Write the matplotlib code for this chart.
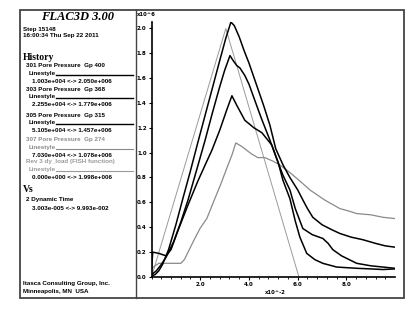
import matplotlib
matplotlib.use('Agg')
import matplotlib.pyplot as plt
from matplotlib.patches import Rectangle
from matplotlib.lines import Line2D
from matplotlib.ticker import MultipleLocator

# time in units of 1e-2 s, pore pressure in units of 1e6
t_301 = [0.03, 0.15, 0.3, 0.45, 0.7, 1.0, 1.3, 1.58, 1.9, 2.2, 2.5, 2.8, 3.05, 3.26, 3.4, 3.6, 3.8, 4.0,
         4.3, 4.6, 4.86, 5.1, 5.4, 5.68, 6.0, 6.21, 6.4, 6.62, 7.0, 7.4, 7.73, 8.2, 8.67, 9.2, 9.6, 9.99]
p_301 = [0.01, 0.02, 0.05, 0.10, 0.22, 0.42, 0.64, 0.84, 1.08, 1.30, 1.52, 1.74, 1.92, 2.05, 2.02, 1.93, 1.82, 1.72,
         1.55, 1.38, 1.22, 1.03, 0.90, 0.80, 0.70, 0.62, 0.55, 0.48, 0.42, 0.38, 0.35, 0.32, 0.30, 0.27, 0.25, 0.24]

t_303 = [0.03, 0.2, 0.4, 0.6, 0.9, 1.2, 1.5, 1.91, 2.2, 2.5, 2.8, 3.0, 3.22, 3.35, 3.5, 3.63, 3.83, 4.0,
         4.24, 4.5, 4.86, 5.1, 5.39, 5.68, 5.9, 6.21, 6.6, 7.03, 7.25, 7.44, 7.8, 8.42, 9.0, 9.5, 9.99]
p_303 = [0.023, 0.05, 0.10, 0.16, 0.28, 0.44, 0.62, 0.90, 1.10, 1.32, 1.53, 1.66, 1.78, 1.74, 1.70, 1.68, 1.62, 1.55,
         1.42, 1.28, 1.10, 0.97, 0.82, 0.70, 0.55, 0.39, 0.34, 0.31, 0.27, 0.22, 0.17, 0.11, 0.09, 0.08, 0.07]

t_305 = [0.0, 0.05, 0.3, 0.6, 0.8, 1.1, 1.5, 1.9, 2.2, 2.48, 2.8, 3.1, 3.3, 3.5, 3.83, 4.2, 4.53, 4.94,
         5.2, 5.39, 5.68, 5.9, 6.09, 6.37, 6.7, 7.03, 7.6, 8.42, 9.0, 9.5, 9.99]
p_305 = [0.051, 0.2, 0.19, 0.17, 0.22, 0.38, 0.58, 0.77, 0.9, 1.02, 1.18, 1.35, 1.457, 1.38, 1.26, 1.20, 1.16, 1.06,
         0.92, 0.78, 0.63, 0.45, 0.32, 0.19, 0.14, 0.11, 0.08, 0.07, 0.065, 0.06, 0.065]

t_307 = [0.03, 0.15, 0.3, 0.6, 0.9, 1.2, 1.35, 1.5, 1.7, 1.99, 2.27, 2.6, 2.85, 3.1, 3.3, 3.46, 3.7, 3.9,
         4.1, 4.36, 4.65, 5.0, 5.27, 5.68, 6.1, 6.5, 7.1, 7.73, 8.1, 8.42, 9.0, 9.5, 9.99]
p_307 = [0.07, 0.09, 0.11, 0.11, 0.11, 0.11, 0.14, 0.2, 0.28, 0.39, 0.47, 0.63, 0.75, 0.88, 0.98, 1.078, 1.05, 1.02,
         0.99, 0.96, 0.96, 0.93, 0.90, 0.84, 0.77, 0.70, 0.62, 0.55, 0.53, 0.51, 0.50, 0.48, 0.47]

# table 3 (dy_load FISH function)
t_tab = [0.0, 3.05, 6.05]
p_tab = [0.0, 1.998, 0.0]

W, H = 415, 309


def fx(x):
    return x / W


def fy(y):
    return 1 - y / H


fig = plt.figure(figsize=(W / 100, H / 100), dpi=100)

# outer frame + divider
fig.patches.append(Rectangle((fx(20), fy(298)), fx(404) - fx(20), fy(10) - fy(298),
                             transform=fig.transFigure, fill=False, lw=1.3, ec='#444444'))
fig.lines.append(Line2D([fx(136), fx(136)], [fy(10), fy(298)], transform=fig.transFigure,
                        lw=1.0, color='#444444'))

ax = fig.add_axes([fx(151.5), fy(277), fx(395) - fx(151.5), fy(22) - fy(277)])
ax.plot(t_tab, p_tab, color='#9a9a9a', lw=0.7)
ax.plot(t_307, p_307, color='#8a8a8a', lw=0.9)
ax.plot(t_305, p_305, color='black', lw=1.1)
ax.plot(t_303, p_303, color='black', lw=1.1)
ax.plot(t_301, p_301, color='black', lw=1.1)

ax.set_xlim(0, 9.993)
ax.set_ylim(0, 2.05)
for s in ['top', 'right']:
    ax.spines[s].set_visible(False)
for s in ['left', 'bottom']:
    ax.spines[s].set_linewidth(1.2)
ax.xaxis.set_minor_locator(MultipleLocator(0.4))
ax.set_xticks([2, 4, 6, 8])
ax.set_xticklabels(['2.0', '4.0', '6.0', '8.0'], fontweight='bold')
yt = [i * 0.2 for i in range(11)]
ax.set_yticks(yt)
ax.set_yticklabels([f'{v:.1f}' for v in yt], fontweight='bold')
ax.tick_params(labelsize=4, length=2, width=0.8, pad=1.5)
ax.tick_params(which='minor', length=1.5, width=0.6)

fig.text(fx(137), fy(15), 'x10^6', fontsize=3.8, fontweight='bold', va='center')
fig.text(fx(265), fy(293), 'x10^-2', fontsize=3.8, fontweight='bold', va='center')

# left info panel
fs = 4.5
fam = 'Liberation Sans'
fig.text(fx(78), fy(17), 'FLAC3D 3.00', family='Liberation Serif', fontsize=9,
         fontweight='bold', style='italic', ha='center', va='center')
fig.text(fx(23), fy(29), 'Step 15148', family=fam, fontsize=fs, fontweight='bold', va='center')
fig.text(fx(23), fy(36), '16:00:34 Thu Sep 22 2011', family=fam, fontsize=fs, fontweight='bold', va='center')
fig.text(fx(23), fy(58), 'History', family='Liberation Serif', fontsize=7, fontweight='bold', va='center')

entries = [
    ('301 Pore Pressure  Gp 400', '1.003e+004 <-> 2.050e+006', 'black', 66),
    ('303 Pore Pressure  Gp 368', '2.255e+004 <-> 1.779e+006', 'black', 89),
    ('305 Pore Pressure  Gp 315', '5.105e+004 <-> 1.457e+006', 'black', 115),
    ('307 Pore Pressure  Gp 274', '7.030e+004 <-> 1.078e+006', '#8a8a8a', 140),
    ('Rev 3 dy_load (FISH function)', '0.000e+000 <-> 1.998e+006', '#9a9a9a', 162),
]
for name, rng, col, y in entries:
    fig.text(fx(26), fy(y), name, family=fam, fontsize=fs, fontweight='bold', va='center', color=col)
    fig.text(fx(29), fy(y + 7.5), 'Linestyle', family=fam, fontsize=fs, fontweight='bold', va='center', color=col)
    fig.lines.append(Line2D([fx(56), fx(133)], [fy(y + 8.5), fy(y + 8.5)], transform=fig.transFigure,
                            lw=1.0 if col == 'black' else 0.8, color=col))
    fig.text(fx(32), fy(y + 15.5), rng, family=fam, fontsize=fs, fontweight='bold', va='center')

fig.text(fx(23), fy(189), 'Vs', family='Liberation Serif', fontsize=7, fontweight='bold', va='center')
fig.text(fx(26), fy(200), '2 Dynamic Time', family=fam, fontsize=fs, fontweight='bold', va='center')
fig.text(fx(32), fy(208), '3.003e-005 <-> 9.993e-002', family=fam, fontsize=fs, fontweight='bold', va='center')

fig.text(fx(23), fy(284), 'Itasca Consulting Group, Inc.', family=fam, fontsize=fs, fontweight='bold', va='center')
fig.text(fx(23), fy(291), 'Minneapolis, MN  USA', family=fam, fontsize=fs, fontweight='bold', va='center')

fig.savefig('out.png', dpi=100)
